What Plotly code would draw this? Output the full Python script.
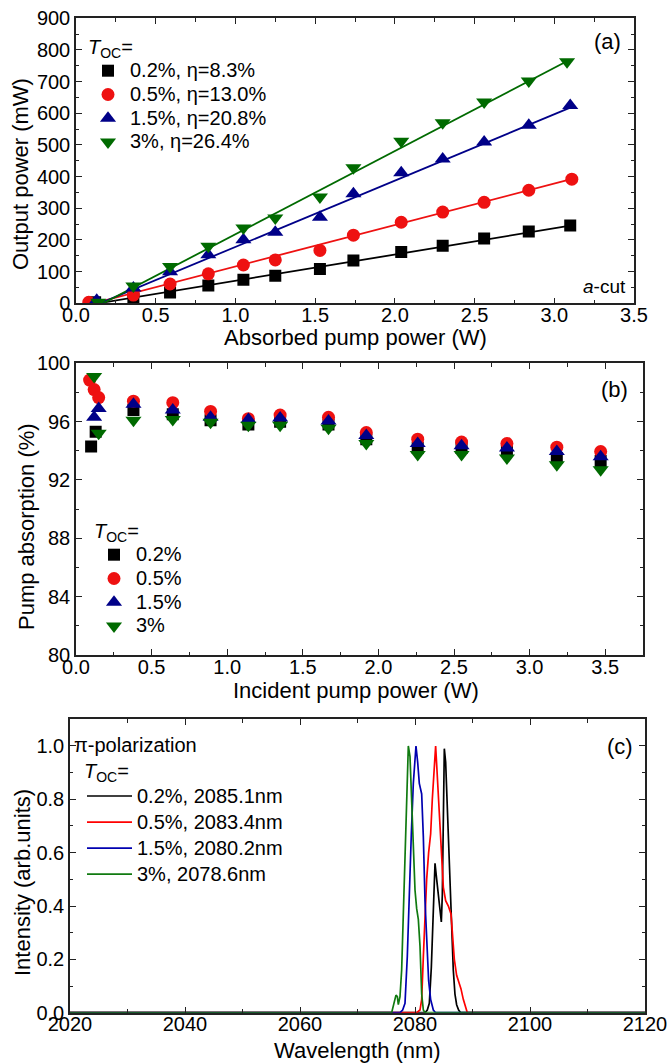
import plotly.graph_objects as go

# ---------------- panel (a): output power vs absorbed pump power ----------------
a_x_02 = [0.12, 0.36, 0.59, 0.83, 1.05, 1.25, 1.53, 1.74, 2.04, 2.30, 2.56, 2.84, 3.10]
a_y_02 = [3, 16, 34, 56, 74, 87, 108, 135, 162, 182, 205, 227, 246]
a_x_05 = [0.08, 0.36, 0.59, 0.83, 1.05, 1.25, 1.53, 1.74, 2.04, 2.30, 2.56, 2.84, 3.11]
a_y_05 = [3, 26, 61, 93, 121, 137, 167, 215, 256, 288, 319, 357, 392]
a_x_15 = [0.13, 0.36, 0.59, 0.83, 1.05, 1.25, 1.53, 1.74, 2.04, 2.30, 2.56, 2.84, 3.10]
a_y_15 = [10, 48, 100, 153, 201, 224, 272, 346, 412, 456, 509, 562, 625]
a_x_3 = [0.14, 0.36, 0.59, 0.83, 1.05, 1.25, 1.53, 1.74, 2.04, 2.30, 2.56, 2.84, 3.08]
a_y_3 = [3, 55, 116, 180, 238, 269, 336, 428, 512, 570, 636, 702, 763]

# linear fits (end points)
fit_x_02, fit_y_02 = [0.14, 3.10], [0, 245]
fit_x_05, fit_y_05 = [0.11, 3.10], [0, 391]
fit_x_15, fit_y_15 = [0.15, 3.10], [0, 618]
fit_x_3, fit_y_3 = [0.17, 3.07], [0, 762]

a_names = ["0.2%, η=8.3%", "0.5%, η=13.0%", "1.5%, η=20.8%", "3%, η=26.4%"]

# ---------------- panel (b): pump absorption vs incident pump power ----------------
b_x_02 = [0.10, 0.13, 0.38, 0.64, 0.89, 1.14, 1.35, 1.67, 1.92, 2.26, 2.55, 2.85, 3.18, 3.47]
b_y_02 = [94.3, 95.3, 96.8, 96.5, 96.1, 95.8, 96.0, 95.8, 94.8, 94.2, 94.2, 94.0, 93.5, 93.3]
b_x_05 = [0.09, 0.12, 0.15, 0.38, 0.64, 0.89, 1.14, 1.35, 1.67, 1.92, 2.26, 2.55, 2.85, 3.18, 3.47]
b_y_05 = [98.85, 98.2, 97.65, 97.4, 97.3, 96.7, 96.2, 96.45, 96.3, 95.25, 94.8, 94.6, 94.5, 94.25, 93.95]
b_x_15 = [0.12, 0.15, 0.38, 0.64, 0.89, 1.14, 1.35, 1.67, 1.92, 2.26, 2.55, 2.85, 3.18, 3.47]
b_y_15 = [96.3, 96.9, 97.2, 96.8, 96.3, 96.15, 96.25, 96.05, 95.05, 94.5, 94.35, 94.2, 93.95, 93.6]
b_x_3 = [0.12, 0.15, 0.38, 0.64, 0.89, 1.14, 1.35, 1.67, 1.92, 2.26, 2.55, 2.85, 3.18, 3.47]
b_y_3 = [99.1, 95.2, 96.1, 96.15, 95.95, 95.75, 95.75, 95.55, 94.5, 93.75, 93.75, 93.5, 93.05, 92.7]

b_names = ["0.2%", "0.5%", "1.5%", "3%"]

# ---------------- panel (c): laser spectra ----------------
c_wl_02 = [2020, 2081.74, 2082.14, 2082.49, 2082.84, 2083.19, 2083.48, 2083.77, 2084.06, 2084.35,
           2084.58, 2084.75, 2084.93, 2085.10, 2085.33, 2085.56, 2085.80, 2086.08, 2086.37, 2086.66,
           2086.95, 2087.24, 2087.59, 2087.94, 2120]
c_i_02 = [0, 0, 0.01, 0.035, 0.17, 0.40, 0.56, 0.50, 0.44, 0.39,
          0.34, 0.44, 0.75, 0.99, 0.94, 0.81, 0.65, 0.46, 0.28, 0.16,
          0.07, 0.03, 0.01, 0, 0]
c_wl_05 = [2020, 2080.29, 2080.87, 2081.16, 2081.45, 2081.74, 2082.03, 2082.37, 2082.72, 2083.01,
           2083.30, 2083.59, 2083.82, 2084.11, 2084.35, 2084.64, 2084.93, 2085.33, 2085.80, 2086.26,
           2086.55, 2086.84, 2087.24, 2087.65, 2087.99, 2088.40, 2088.75, 2089.10, 2120]
c_i_05 = [0, 0, 0.01, 0.05, 0.21, 0.37, 0.50, 0.60, 0.67, 0.80,
          0.91, 1.0, 0.91, 0.79, 0.69, 0.56, 0.47, 0.42, 0.40, 0.37,
          0.29, 0.20, 0.14, 0.11, 0.09, 0.05, 0.02, 0, 0]
c_wl_15 = [2020, 2077.39, 2077.85, 2078.26, 2078.66, 2079.01, 2079.36, 2079.71, 2080.17, 2080.46,
           2080.75, 2081.16, 2081.45, 2081.74, 2082.03, 2082.37, 2082.72, 2083.19, 2083.59, 2120]
c_i_15 = [0, 0, 0.01, 0.035, 0.21, 0.46, 0.67, 0.86, 1.0, 0.94,
          0.86, 0.82, 0.66, 0.42, 0.25, 0.12, 0.05, 0.01, 0, 0]
c_wl_3 = [2020, 2075.94, 2076.69, 2076.93, 2077.10, 2077.39, 2077.68, 2077.97, 2078.26, 2078.55,
          2078.84, 2079.13, 2079.42, 2079.71, 2080.00, 2080.29, 2080.58, 2080.87, 2081.16, 2081.45,
          2081.74, 2120]
c_i_3 = [0, 0, 0.066, 0.06, 0.03, 0.06, 0.16, 0.37, 0.62, 0.84,
         1.0, 0.96, 0.80, 0.62, 0.46, 0.39, 0.35, 0.25, 0.07, 0.01,
         0, 0]

c_names = ["0.2%, 2085.1nm", "0.5%, 2083.4nm", "1.5%, 2080.2nm", "3%, 2078.6nm"]

# ---------------- styling ----------------
W, H = 671, 1063
FONT = "Arial, 'Liberation Sans', sans-serif"
BLACK, RED, BLUE, GREEN = "#000000", "#ee1111", "#000088", "#006a00"
C_BLUE, C_GREEN = "#0000b0", "#107a10"


def big(txt, size=20):
    # legend rows are spaced from the legend font size; the visible text is drawn larger
    return f"<span style='font-size:{size}px'>{txt}</span>"


TOC = big("<i>T</i><sub>OC</sub>=")


def px_x(p):
    return p / W


def px_y(p):
    return 1 - p / H


def axis_style(dom, rng, dtick, minor_dtick, fmt, anchor, is_x):
    return dict(
        domain=dom, range=rng, dtick=dtick, tickformat=fmt, anchor=anchor,
        showline=True, linecolor="#222222", linewidth=1.5, mirror="ticks",
        ticks="inside", ticklen=6, tickwidth=1.3, tickcolor="#222222",
        minor=dict(ticks="inside", ticklen=3.5, tickwidth=1.2, tickcolor="#222222", dtick=minor_dtick),
        showgrid=False, zeroline=False, automargin=False,
        tickfont=dict(size=20, color="black", family=FONT),
        ticklabelstandoff=-7 if is_x else 0,
    )


fig = go.Figure()

# panel (a)
marker_specs = [("square", BLACK, 12), ("circle", RED, 13), ("triangle-up", BLUE, 14), ("triangle-down", GREEN, 14)]
a_sets = [(a_x_02, a_y_02), (a_x_05, a_y_05), (a_x_15, a_y_15), (a_x_3, a_y_3)]
a_fits = [(fit_x_02, fit_y_02), (fit_x_05, fit_y_05), (fit_x_15, fit_y_15), (fit_x_3, fit_y_3)]
for (fx, fy), (sym, col, sz) in zip(a_fits, marker_specs):
    fig.add_trace(go.Scatter(x=fx, y=fy, mode="lines", line=dict(color=col, width=1.8),
                             showlegend=False, hoverinfo="skip", xaxis="x", yaxis="y"))
for (xs, ys), (sym, col, sz), name in zip(a_sets, marker_specs, a_names):
    fig.add_trace(go.Scatter(x=xs, y=ys, mode="markers", name=big(name),
                             marker=dict(symbol=sym, color=col, size=sz, line=dict(width=0)),
                             xaxis="x", yaxis="y", legend="legend"))

# panel (b)
b_sets = [(b_x_02, b_y_02), (b_x_05, b_y_05), (b_x_15, b_y_15), (b_x_3, b_y_3)]
for (xs, ys), (sym, col, sz), name in zip(b_sets, marker_specs, b_names):
    fig.add_trace(go.Scatter(x=xs, y=ys, mode="markers", name=big(name),
                             marker=dict(symbol=sym, color=col, size=sz, line=dict(width=0)),
                             xaxis="x2", yaxis="y2", legend="legend2"))

# panel (c)
c_sets = [(c_wl_02, c_i_02), (c_wl_05, c_i_05), (c_wl_15, c_i_15), (c_wl_3, c_i_3)]
c_cols = [BLACK, "#ff0000", C_BLUE, C_GREEN]
for (xs, ys), col, name in zip(c_sets, c_cols, c_names):
    fig.add_trace(go.Scatter(x=xs, y=ys, mode="lines", name=big(name),
                             line=dict(color=col, width=1.7),
                             xaxis="x3", yaxis="y3", legend="legend3"))


def legend_style(x, y, size, itemwidth):
    return dict(bgcolor="rgba(0,0,0,0)", borderwidth=0,
                font=dict(size=size, color="black", family=FONT),
                title=dict(text=TOC, side="top", font=dict(size=size, color="black", family=FONT)),
                xanchor="left", yanchor="top", tracegroupgap=0,
                x=px_x(x), y=px_y(y), itemwidth=itemwidth)


fig.update_layout(
    width=W, height=H,
    margin=dict(l=0, r=0, t=0, b=0),
    paper_bgcolor="white", plot_bgcolor="white",
    font=dict(family=FONT, size=20, color="black"),
    xaxis=axis_style([px_x(76), px_x(634)], [0, 3.5], 0.5, 0.25, ".1f", "y", True),
    yaxis=axis_style([px_y(303.3), px_y(18.3)], [0, 900], 100, 50, "d", "x", False),
    xaxis2=axis_style([px_x(76), px_x(643)], [0, 3.75], 0.5, 0.25, ".1f", "y2", True),
    yaxis2=axis_style([px_y(655), px_y(363.3)], [80, 100], 4, 2, "d", "x2", False),
    xaxis3=axis_style([px_x(70), px_x(645)], [2020, 2120], 20, 10, "d", "y3", True),
    yaxis3=axis_style([px_y(1012.7), px_y(719.3)], [0, 1.1], 0.2, 0.1, ".1f", "x3", False),
    legend=legend_style(86, 33, 16, 34),
    legend2=legend_style(92, 517, 16, 34),
    legend3=legend_style(82, 755, 17.7, 45),
    showlegend=True,
)

ann_font = dict(size=22, color="black", family=FONT)
annotations = [
    # axis titles
    dict(text="Output power (mW)", x=px_x(20), y=px_y(174), textangle=-90),
    dict(text="Absorbed pump power (W)", x=px_x(355), y=px_y(338)),
    dict(text="Pump absorption (%)", x=px_x(26), y=px_y(527), textangle=-90),
    dict(text="Incident pump power (W)", x=px_x(356), y=px_y(690)),
    dict(text="Intensity (arb.units)", x=px_x(22), y=px_y(883), textangle=-90),
    dict(text="Wavelength (nm)", x=px_x(357), y=px_y(1050)),
    # panel labels
    dict(text="(a)", x=px_x(607), y=px_y(42)),
    dict(text="(b)", x=px_x(614), y=px_y(390)),
    dict(text="(c)", x=px_x(620), y=px_y(746)),
]
for a in annotations:
    a.update(xref="paper", yref="paper", showarrow=False, xanchor="center", yanchor="middle", font=ann_font)
annotations.append(dict(text="<i>a</i>-cut", x=px_x(628), y=px_y(287), xref="paper", yref="paper",
                        showarrow=False, xanchor="right", yanchor="middle",
                        font=dict(size=19, color="black", family=FONT)))
annotations.append(dict(text="π-polarization", x=px_x(72), y=px_y(745), xref="paper", yref="paper",
                        showarrow=False, xanchor="left", yanchor="middle",
                        font=dict(size=20, color="black", family=FONT)))
fig.update_layout(annotations=annotations)

# drop the default page margin so the figure fills the window exactly
fig.write_html("out.html", config={"displayModeBar": False},
               post_script="document.body.style.margin='0';document.body.style.overflow='hidden';")
